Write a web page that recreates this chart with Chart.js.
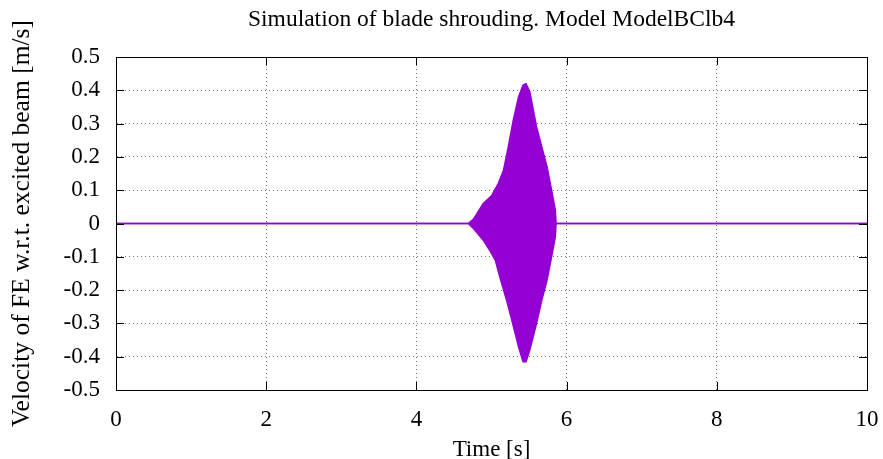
<!DOCTYPE html>
<html>
<head>
<meta charset="utf-8">
<script src="https://cdn.jsdelivr.net/npm/chart.js@4"></script>
<style>
html,body{margin:0;padding:0;background:#fff;}
#c{display:block;}
</style>
</head>
<body>
<canvas id="c" width="883" height="459"></canvas>
<script>
const chartTitle = "Simulation of blade shrouding. Model ModelBClb4";
const xTitle = "Time [s]";
const yTitle = "Velocity of FE w.r.t. excited beam [m/s]";
const xTickValues = [0, 2, 4, 6, 8, 10];
const yTickValues = [-0.5, -0.4, -0.3, -0.2, -0.1, 0, 0.1, 0.2, 0.3, 0.4, 0.5];

// upper envelope of the oscillating signal
const upperT = [0, 4.69, 4.76, 4.89, 5.0, 5.09, 5.16, 5.22, 5.29, 5.36, 5.42, 5.46, 5.51, 5.60, 5.67, 5.74, 5.80, 5.85, 5.86, 10];
const upperV = [0, 0, 0.013, 0.06, 0.083, 0.12, 0.16, 0.226, 0.31, 0.38, 0.416, 0.42, 0.396, 0.29, 0.23, 0.17, 0.10, 0.04, 0, 0];
// lower envelope
const lowerT = [0, 4.69, 4.76, 4.89, 4.98, 5.05, 5.11, 5.20, 5.27, 5.36, 5.42, 5.46, 5.51, 5.60, 5.67, 5.74, 5.80, 5.85, 5.86, 10];
const lowerV = [0, 0, -0.015, -0.05, -0.082, -0.11, -0.16, -0.23, -0.29, -0.37, -0.415, -0.415, -0.38, -0.30, -0.23, -0.17, -0.10, -0.04, 0, 0];

const PURPLE = '#9400d3';
const FONT = "'Liberation Serif', 'DejaVu Serif', serif";

const frame = {
  id: 'frame',
  afterDatasetsDraw(chart) {
    const {ctx, chartArea: a, scales} = chart;
    ctx.save();
    ctx.strokeStyle = '#000';
    ctx.lineWidth = 1;
    const tl = 8;
    ctx.beginPath();
    scales.x.ticks.forEach(t => {
      const px = Math.round(scales.x.getPixelForValue(t.value)) + 0.5;
      ctx.moveTo(px, a.bottom); ctx.lineTo(px, a.bottom - tl);
      ctx.moveTo(px, a.top); ctx.lineTo(px, a.top + tl);
    });
    scales.y.ticks.forEach(t => {
      const py = Math.round(scales.y.getPixelForValue(t.value)) + 0.5;
      ctx.moveTo(a.left, py); ctx.lineTo(a.left + tl, py);
      ctx.moveTo(a.right, py); ctx.lineTo(a.right - tl, py);
    });
    ctx.stroke();
    ctx.strokeRect(Math.round(a.left) + 0.5, Math.round(a.top) + 0.5, Math.round(a.right - a.left), Math.round(a.bottom - a.top));
    ctx.restore();
  }
};

new Chart(document.getElementById('c'), {
  type: 'line',
  data: {
    datasets: [
      {
        data: upperT.map((t, i) => ({x: t, y: upperV[i]})),
        borderColor: PURPLE,
        backgroundColor: PURPLE,
        borderWidth: 1.5,
        pointRadius: 0,
        tension: 0,
        fill: '+1'
      },
      {
        data: lowerT.map((t, i) => ({x: t, y: lowerV[i]})),
        borderColor: PURPLE,
        backgroundColor: PURPLE,
        borderWidth: 1.5,
        pointRadius: 0,
        tension: 0,
        fill: false
      }
    ]
  },
  options: {
    responsive: false,
    animation: false,
    devicePixelRatio: 1,
    layout: {padding: {left: 0, right: 16, top: 0, bottom: 0}},
    plugins: {
      legend: {display: false},
      tooltip: {enabled: false},
      title: {
        display: true,
        fullSize: false,
        text: chartTitle,
        color: '#000',
        font: {family: FONT, size: 23.5, weight: 'normal'},
        padding: {top: 6, bottom: 22.8}
      }
    },
    scales: {
      x: {
        type: 'linear',
        min: 0, max: 10,
        afterBuildTicks(s) { s.ticks = xTickValues.map(v => ({value: v})); },
        afterFit(s) { s.height = 69; s.paddingLeft = 0; s.paddingRight = 0; },
        ticks: {
          color: '#000',
          font: {family: FONT, size: 23},
          padding: 16,
          maxRotation: 0,
          callback: v => String(v)
        },
        grid: {color: 'rgba(0,0,0,0.55)', lineWidth: 1, drawTicks: false},
        border: {display: true, color: '#000', dash: [1, 3]},
        title: {display: true, text: xTitle, color: '#000', font: {family: FONT, size: 23}, padding: {top: 0, bottom: -5}}
      },
      y: {
        type: 'linear',
        min: -0.5, max: 0.5,
        afterBuildTicks(s) { s.ticks = yTickValues.map(v => ({value: v})); },
        afterFit(s) { s.width = 116; s.paddingTop = 0; s.paddingBottom = 0; },
        ticks: {
          color: '#000',
          font: {family: FONT, size: 23},
          padding: 16,
          callback: v => (Math.abs(v) < 1e-9 ? '0' : String(Math.round(v * 10) / 10))
        },
        grid: {color: 'rgba(0,0,0,0.55)', lineWidth: 1, drawTicks: false},
        border: {display: true, color: '#000', dash: [1, 3]},
        title: {display: true, text: yTitle, color: '#000', font: {family: FONT, size: 25.5}, padding: {top: 7, bottom: 0}}
      }
    }
  },
  plugins: [frame]
});
</script>
</body>
</html>
